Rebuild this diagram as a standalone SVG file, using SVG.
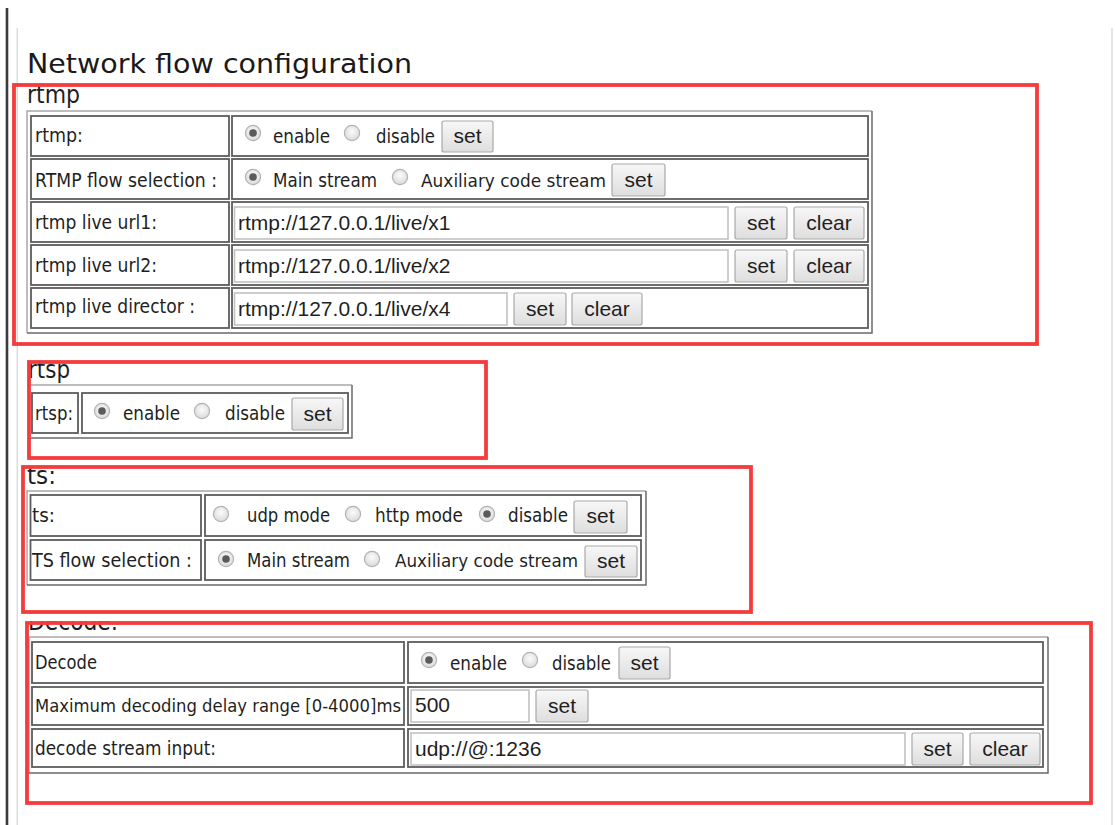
<svg xmlns="http://www.w3.org/2000/svg" xmlns:xlink="http://www.w3.org/1999/xlink" width="1115" height="825" viewBox="0 0 1115 825">
  <defs>
    <style>
      .edge-dark { stroke: #3a3a3a; stroke-width: 2.6; }
      .edge-light { stroke: #dcdcdc; stroke-width: 1.5; }
      .mark { fill: none; stroke: #f43c3c; stroke-width: 3.8; }
      .tbl-lt { fill: none; stroke: #a8a8a8; stroke-width: 1.5; }
      .tbl-dk { fill: none; stroke: #6a6a6a; stroke-width: 1.5; }
      .cell { fill: #ffffff; stroke: #5c5c5c; stroke-width: 1.8; }
      .inp { fill: #ffffff; stroke: #c2c2c2; stroke-width: 1.6; }
      .btn { fill: url(#btnFace); stroke: #a9a9a9; stroke-width: 1.2; }
      .ui { font-family: "DejaVu Sans", Verdana, sans-serif; font-size: 19.5px; fill: #1f1f1f; }
      .ui-long { font-family: "DejaVu Sans", Verdana, sans-serif; font-size: 17px; fill: #1f1f1f; }
      .legend { font-family: "DejaVu Sans", Verdana, sans-serif; font-size: 24.5px; fill: #1f1f1f; }
      .title { font-family: "DejaVu Sans", Verdana, sans-serif; font-size: 27px; fill: #1a1a1a; }
      .field { font-family: "Liberation Sans", Arial, sans-serif; font-size: 21px; fill: #1f1f1f; }
      .cap { font-family: "Liberation Sans", Arial, sans-serif; font-size: 21px; fill: #1f1f1f; text-anchor: middle; }
    </style>
    <linearGradient id="btnFace" x1="0" y1="0" x2="0" y2="1">
      <stop offset="0" stop-color="#f7f7f7"/>
      <stop offset="1" stop-color="#dedede"/>
    </linearGradient>
    <radialGradient id="radioFace" cx="0.5" cy="0.4" r="0.6">
      <stop offset="0" stop-color="#fbfbfb"/>
      <stop offset="1" stop-color="#dadada"/>
    </radialGradient>
    <g id="radio">
      <circle r="7.6" fill="url(#radioFace)" stroke="#b3b3b3" stroke-width="1.2"/>
    </g>
    <g id="radioOn">
      <circle r="7.6" fill="url(#radioFace)" stroke="#b3b3b3" stroke-width="1.2"/>
      <circle r="3.8" fill="#5a5a5a"/>
    </g>
    <clipPath id="decodeLegendClip">
      <rect x="20" y="621" width="200" height="20"/>
    </clipPath>
  </defs>

  <rect width="1115" height="825" fill="#ffffff"/>

  <!-- page frame -->
  <g id="page-frame">
    <line class="edge-dark" x1="7" y1="8" x2="7" y2="825"/>
    <line class="edge-light" x1="17.3" y1="28" x2="17.3" y2="825"/>
    <line class="edge-light" x1="1112" y1="28" x2="1112" y2="825"/>
  </g>

  <text id="page-title" class="title" x="27" y="73" textLength="385" lengthAdjust="spacingAndGlyphs">Network flow configuration</text>

  <!-- rtmp -->
  <g id="rtmp">
    <text class="legend" x="27" y="103" textLength="53" lengthAdjust="spacingAndGlyphs">rtmp</text>
    <path class="tbl-lt" d="M27 333 V111 H872"/>
    <path class="tbl-dk" d="M872 111 V333 H27"/>

    <g id="rtmp-enable">
      <rect class="cell" x="31" y="116" width="198" height="40"/>
      <rect class="cell" x="232" y="116" width="636" height="40"/>
      <text class="ui" x="35" y="142" textLength="48" lengthAdjust="spacingAndGlyphs">rtmp:</text>
      <use href="#radioOn" x="253" y="133"/>
      <text class="ui" x="273" y="143" textLength="57" lengthAdjust="spacingAndGlyphs">enable</text>
      <use href="#radio" x="352" y="133"/>
      <text class="ui" x="376" y="143" textLength="59" lengthAdjust="spacingAndGlyphs">disable</text>
      <rect class="btn" x="442" y="121" width="51" height="31" rx="2"/>
      <text class="cap" x="467.5" y="143">set</text>
    </g>

    <g id="rtmp-flow">
      <rect class="cell" x="31" y="159" width="198" height="40"/>
      <rect class="cell" x="232" y="159" width="636" height="40"/>
      <text class="ui" x="35" y="186.5" textLength="182" lengthAdjust="spacingAndGlyphs">RTMP flow selection :</text>
      <use href="#radioOn" x="253" y="177"/>
      <text class="ui" x="273" y="186.5" textLength="104" lengthAdjust="spacingAndGlyphs">Main stream</text>
      <use href="#radio" x="400" y="177"/>
      <text class="ui-long" x="421" y="186.5" textLength="185" lengthAdjust="spacingAndGlyphs">Auxiliary code stream</text>
      <rect class="btn" x="612" y="164" width="53" height="32" rx="2"/>
      <text class="cap" x="638.5" y="187">set</text>
    </g>

    <g id="rtmp-url1">
      <rect class="cell" x="31" y="202" width="198" height="40"/>
      <rect class="cell" x="232" y="202" width="636" height="40"/>
      <text class="ui" x="35" y="229" textLength="122" lengthAdjust="spacingAndGlyphs">rtmp live url1:</text>
      <rect class="inp" x="234.5" y="207" width="493.5" height="32"/>
      <text class="field" x="238" y="230">rtmp://127.0.0.1/live/x1</text>
      <rect class="btn" x="735" y="207" width="52" height="32" rx="2"/>
      <text class="cap" x="761" y="230">set</text>
      <rect class="btn" x="794" y="207" width="70" height="32" rx="2"/>
      <text class="cap" x="829" y="230">clear</text>
    </g>

    <g id="rtmp-url2">
      <rect class="cell" x="31" y="245" width="198" height="40"/>
      <rect class="cell" x="232" y="245" width="636" height="40"/>
      <text class="ui" x="35" y="272" textLength="122" lengthAdjust="spacingAndGlyphs">rtmp live url2:</text>
      <rect class="inp" x="234.5" y="250" width="493.5" height="32"/>
      <text class="field" x="238" y="273">rtmp://127.0.0.1/live/x2</text>
      <rect class="btn" x="735" y="250" width="52" height="32" rx="2"/>
      <text class="cap" x="761" y="273">set</text>
      <rect class="btn" x="794" y="250" width="70" height="32" rx="2"/>
      <text class="cap" x="829" y="273">clear</text>
    </g>

    <g id="rtmp-director">
      <rect class="cell" x="31" y="288" width="198" height="40"/>
      <rect class="cell" x="232" y="288" width="636" height="40"/>
      <text class="ui" x="35" y="313" textLength="160" lengthAdjust="spacingAndGlyphs">rtmp live director :</text>
      <rect class="inp" x="234.5" y="293" width="272.5" height="32"/>
      <text class="field" x="238" y="316">rtmp://127.0.0.1/live/x4</text>
      <rect class="btn" x="514" y="293" width="52" height="32" rx="2"/>
      <text class="cap" x="540" y="316">set</text>
      <rect class="btn" x="572" y="293" width="70" height="32" rx="2"/>
      <text class="cap" x="607" y="316">clear</text>
    </g>
  </g>

  <!-- rtsp -->
  <g id="rtsp">
    <text class="legend" x="28" y="378" textLength="42" lengthAdjust="spacingAndGlyphs">rtsp</text>
    <path class="tbl-lt" d="M29 438 V385 H352"/>
    <path class="tbl-dk" d="M352 385 V438 H29"/>
    <rect class="cell" x="32" y="393" width="46" height="40"/>
    <rect class="cell" x="82" y="393" width="266" height="40"/>
    <text class="ui" x="35" y="420" textLength="38" lengthAdjust="spacingAndGlyphs">rtsp:</text>
    <use href="#radioOn" x="102" y="411"/>
    <text class="ui" x="123" y="420" textLength="57" lengthAdjust="spacingAndGlyphs">enable</text>
    <use href="#radio" x="202" y="411"/>
    <text class="ui" x="225" y="420" textLength="60" lengthAdjust="spacingAndGlyphs">disable</text>
    <rect class="btn" x="292" y="398" width="51" height="32" rx="2"/>
    <text class="cap" x="317.5" y="421">set</text>
  </g>

  <!-- ts -->
  <g id="ts">
    <text class="legend" x="27" y="484" textLength="29" lengthAdjust="spacingAndGlyphs">ts:</text>
    <path class="tbl-lt" d="M27 585 V491 H646"/>
    <path class="tbl-dk" d="M646 491 V585 H27"/>

    <g id="ts-mode">
      <rect class="cell" x="30.5" y="495" width="170.5" height="41"/>
      <rect class="cell" x="205" y="495" width="436" height="41"/>
      <text class="ui" x="32" y="522" textLength="23" lengthAdjust="spacingAndGlyphs">ts:</text>
      <use href="#radio" x="221" y="514"/>
      <text class="ui" x="247" y="522" textLength="83" lengthAdjust="spacingAndGlyphs">udp mode</text>
      <use href="#radio" x="353" y="514"/>
      <text class="ui" x="375" y="522" textLength="88" lengthAdjust="spacingAndGlyphs">http mode</text>
      <use href="#radioOn" x="487" y="514"/>
      <text class="ui" x="508" y="522" textLength="60" lengthAdjust="spacingAndGlyphs">disable</text>
      <rect class="btn" x="574" y="501" width="53" height="32" rx="2"/>
      <text class="cap" x="600.5" y="523">set</text>
    </g>

    <g id="ts-flow">
      <rect class="cell" x="30.5" y="540" width="170.5" height="40"/>
      <rect class="cell" x="205" y="540" width="436" height="40"/>
      <text class="ui" x="32" y="567" textLength="160" lengthAdjust="spacingAndGlyphs">TS flow selection :</text>
      <use href="#radioOn" x="226" y="559"/>
      <text class="ui" x="247" y="567" textLength="103" lengthAdjust="spacingAndGlyphs">Main stream</text>
      <use href="#radio" x="372" y="559"/>
      <text class="ui-long" x="395" y="567" textLength="183" lengthAdjust="spacingAndGlyphs">Auxiliary code stream</text>
      <rect class="btn" x="585" y="546" width="52" height="31" rx="2"/>
      <text class="cap" x="611" y="568">set</text>
    </g>
  </g>

  <!-- decode -->
  <g id="decode">
    <text class="legend" x="28" y="630" textLength="90" lengthAdjust="spacingAndGlyphs" clip-path="url(#decodeLegendClip)">Decode:</text>
    <path class="tbl-lt" d="M29 773 V637 H1048"/>
    <path class="tbl-dk" d="M1048 637 V773 H29"/>

    <g id="decode-enable">
      <rect class="cell" x="32" y="642" width="372" height="41"/>
      <rect class="cell" x="408" y="642" width="635" height="41"/>
      <text class="ui" x="35" y="669" textLength="62" lengthAdjust="spacingAndGlyphs">Decode</text>
      <use href="#radioOn" x="429" y="660"/>
      <text class="ui" x="450" y="669.5" textLength="57" lengthAdjust="spacingAndGlyphs">enable</text>
      <use href="#radio" x="530" y="660"/>
      <text class="ui" x="552" y="669.5" textLength="59" lengthAdjust="spacingAndGlyphs">disable</text>
      <rect class="btn" x="619" y="647" width="51" height="32" rx="2"/>
      <text class="cap" x="644.5" y="670">set</text>
    </g>

    <g id="decode-delay">
      <rect class="cell" x="32" y="687" width="372" height="38"/>
      <rect class="cell" x="408" y="687" width="635" height="38"/>
      <text class="ui-long" x="35" y="712" textLength="366" lengthAdjust="spacingAndGlyphs">Maximum decoding delay range [0-4000]ms</text>
      <rect class="inp" x="411" y="690" width="118" height="32"/>
      <text class="field" x="415" y="712">500</text>
      <rect class="btn" x="536" y="690" width="52" height="32" rx="2"/>
      <text class="cap" x="562" y="713">set</text>
    </g>

    <g id="decode-input">
      <rect class="cell" x="32" y="729" width="372" height="38"/>
      <rect class="cell" x="408" y="729" width="635" height="38"/>
      <text class="ui" x="35" y="755" textLength="181" lengthAdjust="spacingAndGlyphs">decode stream input:</text>
      <rect class="inp" x="411" y="733" width="494" height="32"/>
      <text class="field" x="415" y="756">udp://@:1236</text>
      <rect class="btn" x="912" y="733" width="51" height="32" rx="2"/>
      <text class="cap" x="937.5" y="756">set</text>
      <rect class="btn" x="970" y="733" width="70" height="32" rx="2"/>
      <text class="cap" x="1005" y="756">clear</text>
    </g>
  </g>

  <!-- highlight boxes around each section -->
  <g id="highlights">
    <rect class="mark" x="14" y="85" width="1023" height="259"/>
    <rect class="mark" x="29" y="362" width="457" height="96"/>
    <rect class="mark" x="23" y="467" width="728" height="145"/>
    <rect class="mark" x="27" y="623" width="1064" height="180"/>
  </g>
</svg>
